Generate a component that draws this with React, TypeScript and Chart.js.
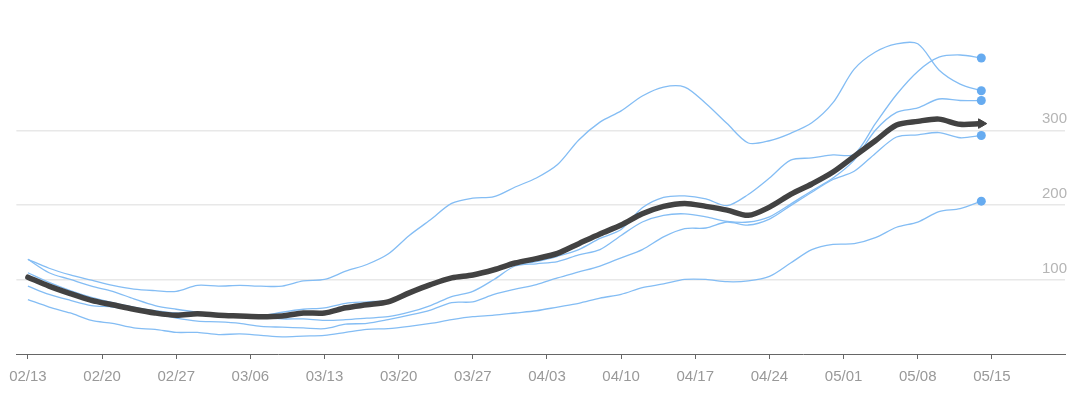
import { useEffect, useRef } from "react";
import { Chart, registerables } from "chart.js";

Chart.register(...registerables);

// x positions: day offset from 02/13
const DAYS = [0, 2, 4, 6, 8, 10, 12, 14, 16, 18, 20, 22, 24, 26, 28, 30, 32, 34, 36, 38, 40, 42, 44, 46, 48, 50, 52, 54, 56, 58, 60, 62, 64, 66, 68, 70, 72, 74, 76, 78, 80, 82, 84, 86, 88, 90];

const TICK_DAYS = [0, 7, 14, 21, 28, 35, 42, 49, 56, 63, 70, 77, 84, 91];
const TICK_LABELS = ["02/13", "02/20", "02/27", "03/06", "03/13", "03/20", "03/27", "04/03", "04/10", "04/17", "04/24", "05/01", "05/08", "05/15"];
const Y_TICKS = [100, 200, 300];

const MAIN = [103, 91, 81, 72, 66, 60, 55, 52, 54, 52, 51, 50, 51, 55, 55, 62, 66, 70, 82, 93, 102, 106, 113, 122, 128, 135, 148, 161, 173, 188, 198, 202, 198, 193, 186, 197, 214, 228, 244, 265, 286, 307, 312, 315, 308, 309];
const S1 = [127, 115, 106, 99, 92, 87, 85, 84, 92, 91, 92, 91, 91, 98, 100, 111, 120, 134, 159, 180, 202, 209, 211, 224, 236, 254, 287, 311, 326, 346, 358, 358, 336, 309, 283, 286, 296, 310, 337, 382, 405, 416, 416, 381, 362, 353];
const S2 = [127, 109, 100, 91, 84, 74, 65, 60, 56, 54, 52, 51, 56, 60, 62, 68, 70, 72, 82, 92, 101, 106, 112, 120, 124, 131, 140, 155, 167, 196, 210, 212, 208, 199, 214, 236, 260, 263, 267, 268, 309, 348, 379, 398, 401, 397];
const S3 = [109, 96, 85, 76, 69, 63, 58, 55, 55, 54, 52, 49, 47, 47, 45, 46, 48, 50, 56, 65, 77, 84, 100, 118, 121, 124, 133, 140, 159, 177, 186, 188, 184, 178, 177, 184, 201, 219, 236, 260, 300, 324, 330, 342, 340, 340];
const S4 = [91, 80, 72, 65, 63, 59, 54, 48, 44, 43, 41, 37, 36, 35, 34, 40, 41, 46, 52, 59, 69, 70, 80, 87, 93, 102, 110, 118, 129, 140, 157, 168, 169, 177, 173, 181, 199, 217, 234, 245, 269, 291, 294, 297, 290, 293];
const S5 = [73, 63, 55, 45, 41, 35, 33, 29, 29, 26, 27, 25, 23, 24, 25, 29, 33, 34, 37, 41, 46, 50, 52, 55, 58, 63, 68, 75, 80, 89, 94, 100, 100, 97, 98, 104, 122, 140, 147, 148, 156, 170, 177, 191, 195, 205];

const BLUE_LINE = "#84bdf4";
const BLUE_DOT = "#66abf0";
const DARK = "#424242";
const FONT = '"Liberation Sans", Arial, Helvetica, sans-serif';

function pts(vals: number[]) {
  return DAYS.map((d, i) => ({ x: d, y: vals[i] }));
}

export default function App() {
  const ref = useRef<HTMLCanvasElement | null>(null);

  useEffect(() => {
    if (!ref.current) return;
    const last = DAYS.length - 1;
    const blue = (vals: number[]) => ({
      data: pts(vals),
      borderColor: BLUE_LINE,
      borderWidth: 1.3,
      tension: 0.3,
      pointRadius: (c: any) => (c.dataIndex === last ? 4.5 : 0),
      pointHoverRadius: 0,
      pointBackgroundColor: BLUE_DOT,
      pointBorderColor: BLUE_DOT,
      pointBorderWidth: 0,
      fill: false,
    });
    const chart = new Chart(ref.current, {
      type: "line",
      data: {
        datasets: [
          {
            data: pts(MAIN),
            borderColor: DARK,
            borderWidth: 5.5,
            tension: 0.3,
            borderCapStyle: "round",
            borderJoinStyle: "round",
            pointStyle: "triangle",
            rotation: 90,
            pointRadius: (c: any) => (c.dataIndex === last ? 5.5 : 0),
            pointHoverRadius: 0,
            pointBackgroundColor: DARK,
            pointBorderColor: DARK,
            pointBorderWidth: 1,
            fill: false,
          } as any,
          blue(S1),
          blue(S2),
          blue(S3),
          blue(S4),
          blue(S5),
        ],
      },
      options: {
        animation: false,
        responsive: false,
        layout: { padding: { left: 12, right: 15, top: 5, bottom: 0 } },
        plugins: { legend: { display: false }, tooltip: { enabled: false } },
        scales: {
          x: {
            type: "linear",
            min: -1.09,
            max: 97.9,
            afterBuildTicks: (s: any) => {
              s.ticks = TICK_DAYS.map((v) => ({ value: v }));
            },
            afterFit: (s: any) => {
              s.height = 45;
            },
            ticks: {
              autoSkip: false,
              maxRotation: 0,
              padding: 9,
              color: "#999999",
              font: { family: FONT, size: 15 },
              callback: (v: any) => {
                const i = TICK_DAYS.indexOf(Number(v));
                return i >= 0 ? TICK_LABELS[i] : "";
              },
            },
            grid: { drawOnChartArea: false, drawTicks: true, tickLength: 5, color: "#666666", lineWidth: 1 },
            border: { display: true, color: "#666666", width: 1 },
          },
          y: {
            position: "right",
            min: 0,
            max: 460,
            afterBuildTicks: (s: any) => {
              s.ticks = Y_TICKS.map((v) => ({ value: v }));
            },
            afterFit: (s: any) => {
              s.width = 0;
            },
            ticks: {
              mirror: true,
              padding: 2,
              labelOffset: -11,
              color: "#b5b5b5",
              font: { family: FONT, size: 15 },
            },
            grid: { color: "#e8e8e8", lineWidth: 1.5, drawTicks: false },
            border: { display: false },
          },
        },
      } as any,
    });
    return () => chart.destroy();
  }, []);

  return (
    <div style={{ position: "absolute", left: 0, top: 0, width: 1080, height: 399, background: "#fff" }}>
      <canvas ref={ref} width={1080} height={399} />
    </div>
  );
}
